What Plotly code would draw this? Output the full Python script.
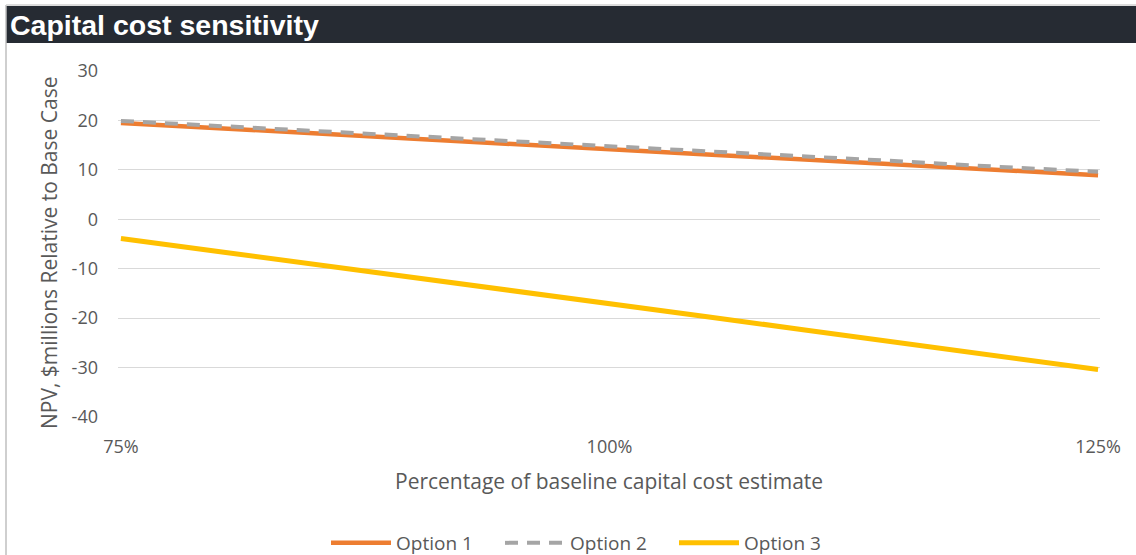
import plotly.graph_objects as go

# Capital cost as a percentage of the baseline estimate
capex_pct = [75, 80, 85, 90, 95, 100, 105, 110, 115, 120, 125]

# NPV relative to base case, $ millions
option_1 = [19.5, 18.4, 17.4, 16.3, 15.3, 14.2, 13.1, 12.1, 11.0, 10.0, 8.9]
option_2 = [19.9, 18.9, 17.8, 16.8, 15.8, 14.8, 13.7, 12.7, 11.7, 10.6, 9.6]
option_3 = [-3.9, -6.5, -9.2, -11.8, -14.4, -17.0, -19.7, -22.4, -25.1, -27.8, -30.4]

x_ticks = [75, 100, 125]
y_ticks = [30, 20, 10, 0, -10, -20, -30, -40]

W, H = 1136, 555
ML, MR, MT, MB = 118, 36, 71, 138
PW, PH = W - ML - MR, H - MT - MB


def px_x(p):
    return (p - ML) / PW


def px_y(p):
    return (H - MB - p) / PH


FONT = "Open Sans"
GREY_TXT = "#595959"

fig = go.Figure()
fig.add_trace(go.Scatter(x=capex_pct, y=option_1, name="Option 1", mode="lines",
                         line=dict(color="#ED7D31", width=4.5)))
fig.add_trace(go.Scatter(x=capex_pct, y=option_2, name="Option 2", mode="lines",
                         line=dict(color="#A5A5A5", width=4, dash="13px,9px")))
fig.add_trace(go.Scatter(x=capex_pct, y=option_3, name="Option 3", mode="lines",
                         line=dict(color="#FFC000", width=5)))

fig.update_layout(
    width=W, height=H,
    margin=dict(l=ML, r=MR, t=MT, b=MB, autoexpand=False),
    paper_bgcolor="white", plot_bgcolor="white",
    font=dict(family=FONT, color=GREY_TXT, size=18),
    showlegend=True,
    legend=dict(orientation="h", x=px_x(326), xanchor="left",
                y=px_y(543), yanchor="middle",
                font=dict(size=19, color=GREY_TXT), itemwidth=60,
                entrywidth=99, entrywidthmode="pixels",
                traceorder="normal"),
    xaxis=dict(range=[74.85, 125.1], tickvals=x_ticks,
               ticktext=[f"{v}%" for v in x_ticks], showgrid=False,
               zeroline=False, showline=False, ticks="",
               ticklabelstandoff=17, tickfont=dict(size=18, color=GREY_TXT)),
    yaxis=dict(range=[-40, 30], tickvals=y_ticks,
               ticktext=[str(v) for v in y_ticks], showgrid=True,
               gridcolor="#D9D9D9", gridwidth=1, zeroline=False,
               showline=False, ticks="", ticklabelstandoff=19,
               tickfont=dict(size=18, color=GREY_TXT)),
)

# Axis titles
fig.add_annotation(text="NPV, $millions Relative to Base Case", xref="paper", yref="paper",
                   x=px_x(49), y=px_y(253), textangle=-90, showarrow=False,
                   font=dict(size=21, color=GREY_TXT, family=FONT),
                   xanchor="center", yanchor="middle")
fig.add_annotation(text="Percentage of baseline capital cost estimate", xref="paper", yref="paper",
                   x=px_x(609), y=px_y(481), showarrow=False,
                   font=dict(size=21, color=GREY_TXT, family=FONT),
                   xanchor="center", yanchor="middle")

# Frame and header bar
fig.add_shape(type="line", xref="paper", yref="paper",
              x0=px_x(6), x1=px_x(6), y0=px_y(5), y1=px_y(560),
              line=dict(color="#BFBFBF", width=1.5))
fig.add_shape(type="line", xref="paper", yref="paper",
              x0=px_x(6), x1=px_x(1140), y0=px_y(5), y1=px_y(5),
              line=dict(color="#D0D0D0", width=1.5))
fig.add_shape(type="rect", xref="paper", yref="paper",
              x0=px_x(6), x1=px_x(1140), y0=px_y(6), y1=px_y(43),
              fillcolor="#262B33", line=dict(width=0), layer="below")
fig.add_annotation(text="<b>Capital cost sensitivity</b>", xref="paper", yref="paper",
                   x=px_x(8), y=px_y(25), xanchor="left", yanchor="middle", showarrow=False,
                   font=dict(size=28.5, color="white", family="Liberation Sans"))

fig.write_html("out.html")
